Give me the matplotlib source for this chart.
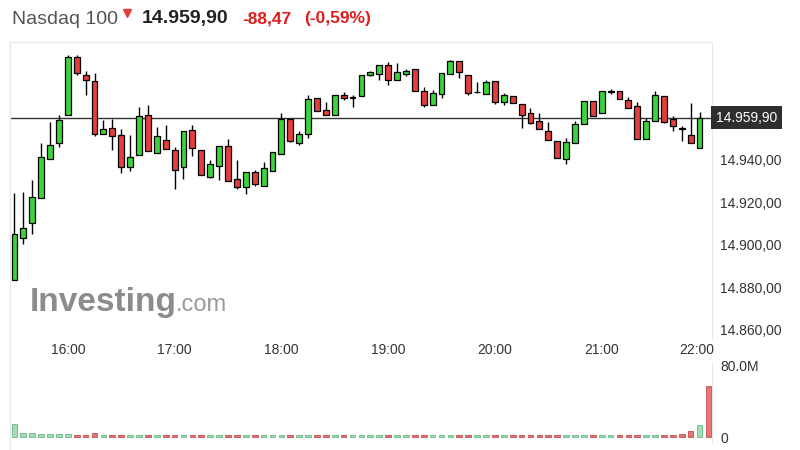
import numpy as np
import matplotlib
matplotlib.use("Agg")
import matplotlib.pyplot as plt
from matplotlib.lines import Line2D

plt.rcParams['font.family'] = ['Liberation Sans', 'DejaVu Sans']

# 5-minute candles, 15:30 .. 21:55
opens = [14883.5, 14903.3, 14910.4, 14922.1, 14940.5, 14948.0, 14961.0, 14988.3, 14980.1, 14977.0,
         14952.2, 14955.1, 14951.8, 14936.8, 14942.2, 14961.0, 14943.3, 14949.4, 14944.7, 14936.4,
         14954.1, 14944.7, 14932.0, 14937.0, 14946.4, 14931.1, 14927.0, 14934.2, 14927.6, 14934.5,
         14942.8, 14959.3, 14948.1, 14952.2, 14969.2, 14963.5, 14961.0, 14970.7, 14969.2, 14969.9,
         14980.0, 14980.5, 14984.8, 14977.6, 14980.5, 14982.8, 14972.3, 14965.9, 14971.1, 14980.5,
         14986.4, 14980.0, 14971.8, 14971.1, 14977.0, 14967.4, 14969.9, 14966.4, 14961.9, 14958.2,
         14953.5, 14948.8, 14940.5, 14948.0, 14956.9, 14967.6, 14962.1, 14972.1, 14972.3, 14968.2,
         14965.4, 14949.9, 14958.5, 14969.9, 14959.3, 14954.6, 14951.8, 14945.6]
highs = [14924.3, 14924.8, 14930.3, 14947.8, 14957.7, 14961.3, 14989.6, 14989.6, 14982.0, 14980.8,
         14958.8, 14959.3, 14954.6, 14951.8, 14964.8, 14966.0, 14955.3, 14956.5, 14945.9, 14953.5,
         14956.6, 14944.7, 14940.0, 14946.4, 14949.6, 14939.7, 14934.0, 14935.3, 14938.9, 14943.6,
         14961.9, 14959.3, 14953.5, 14970.3, 14969.2, 14967.1, 14970.6, 14971.8, 14970.3, 14980.0,
         14982.0, 14984.8, 14985.9, 14985.5, 14982.8, 14982.8, 14974.2, 14972.9, 14980.8, 14987.1,
         14986.4, 14980.0, 14976.5, 14977.6, 14977.0, 14971.3, 14969.9, 14966.4, 14964.3, 14961.9,
         14957.7, 14948.8, 14950.4, 14958.2, 14967.6, 14967.6, 14972.3, 14973.4, 14972.3, 14969.5,
         14967.1, 14959.8, 14972.3, 14969.9, 14960.8, 14956.1, 14966.6, 14962.4]
lows = [14883.5, 14900.5, 14905.2, 14922.1, 14940.5, 14945.9, 14961.0, 14979.8, 14970.3, 14951.0,
        14952.2, 14944.4, 14933.7, 14934.5, 14942.2, 14943.9, 14943.3, 14945.2, 14926.4, 14931.1,
        14942.0, 14932.8, 14931.5, 14930.3, 14929.9, 14926.4, 14924.0, 14927.4, 14927.6, 14934.5,
        14942.8, 14948.3, 14946.9, 14950.4, 14963.2, 14961.0, 14961.0, 14968.2, 14965.1, 14969.9,
        14979.3, 14977.8, 14975.3, 14977.6, 14979.3, 14972.3, 14965.1, 14965.9, 14969.2, 14980.5,
        14978.6, 14970.6, 14971.3, 14971.1, 14966.4, 14965.9, 14966.8, 14955.1, 14956.9, 14954.6,
        14949.4, 14940.9, 14938.1, 14948.0, 14956.9, 14960.4, 14962.1, 14971.1, 14968.7, 14964.5,
        14949.9, 14949.9, 14958.5, 14957.2, 14953.5, 14948.8, 14948.0, 14945.6]
closes = [14905.2, 14908.0, 14922.4, 14941.2, 14947.1, 14958.8, 14988.3, 14980.9, 14977.6, 14952.2,
          14954.6, 14951.0, 14936.8, 14941.2, 14960.4, 14943.9, 14951.1, 14945.2, 14935.3, 14953.5,
          14945.6, 14932.8, 14938.1, 14946.4, 14929.9, 14927.0, 14934.0, 14928.4, 14935.9, 14943.6,
          14959.3, 14948.8, 14952.2, 14968.7, 14963.2, 14961.0, 14970.6, 14969.2, 14969.2, 14980.0,
          14981.2, 14984.8, 14977.6, 14981.2, 14982.0, 14972.3, 14965.6, 14971.5, 14980.8, 14986.4,
          14981.2, 14971.3, 14971.8, 14976.5, 14967.4, 14970.3, 14966.8, 14961.2, 14957.4, 14954.6,
          14949.4, 14940.9, 14948.3, 14956.9, 14967.6, 14960.8, 14972.3, 14972.1, 14968.7, 14964.5,
          14949.9, 14958.5, 14970.6, 14958.0, 14955.7, 14954.6, 14948.0, 14959.9]

# volume in millions (last bar = closing auction at 22:00)
volume = [14.6, 4.9, 4.9, 3.4, 3.4, 3.4, 3.4, 2.6, 2.6, 4.1,
          2.3, 2.2, 2.3, 2.2, 2.2, 2.3, 2.2, 2.2, 2.3, 2.2,
          2.2, 2.3, 2.2, 2.2, 2.2, 2.3, 2.2, 2.2, 2.2, 2.3,
          2.2, 2.2, 2.3, 2.2, 2.2, 2.2, 2.3, 2.2, 2.2, 2.2,
          2.3, 2.2, 2.2, 2.2, 2.3, 2.2, 2.2, 2.2, 2.3, 2.2,
          2.2, 2.2, 2.3, 2.2, 2.2, 2.2, 2.3, 2.2, 2.2, 2.2,
          2.3, 2.2, 2.2, 2.2, 2.3, 2.2, 2.2, 2.2, 2.3, 2.2,
          2.2, 2.2, 2.3, 2.2, 2.5, 3.8, 6.4, 13.0, 57.0]
vol_up = [True] * 7 + [False] * 3 + [True, False, False, True, True, False, True, False, False, True,
          False, False, True, True, False, False, True, False, True, True,
          True, False, True, True, False, False, True, False, True, True,
          True, True, False, True, True, False, False, True, True, True,
          False, False, True, True, False, True, False, False, False, False,
          False, False, True, True, True, False, True, True, False, False,
          False, True, True, False, False, False, False, True, False]

time_ticks = [6, 18, 30, 42, 54, 66, 78]
time_labels = ['16:00', '17:00', '18:00', '19:00', '20:00', '21:00', '22:00']
price_ticks = [14860, 14880, 14900, 14920, 14940]
last_price = 14959.90

GREEN = '#3bd43b'
RED = '#e53d3d'

fig = plt.figure(figsize=(8, 4.5), dpi=100)
W, H = 800, 450


def box(x0, y0, x1, y1):
    return [x0 / W, 1 - y1 / H, (x1 - x0) / W, (y1 - y0) / H]


ax = fig.add_axes(box(10, 42, 712, 338))
vax = fig.add_axes(box(10, 362, 712, 442), sharex=ax)

x = np.arange(len(opens))
o = np.array(opens)
c = np.array(closes)
up = c >= o
cols = np.where(up, GREEN, RED)

ax.vlines(x, lows, highs, color='black', lw=1.0, zorder=2)
bottoms = np.minimum(o, c)
heights = np.maximum(np.abs(c - o), 0.15)
ax.bar(x, heights, 0.66, bottom=bottoms, color=cols, edgecolor='black', lw=0.9, zorder=3)

ax.axhline(last_price, color='#333333', lw=1.0, zorder=1)

ax.set_xlim(-0.5, 78.4)
ax.set_ylim(14856, 14995.5)
ax.yaxis.tick_right()
ax.set_yticks(price_ticks)
ax.set_yticklabels([f'{v:,.2f}'.replace(',', ' ').replace('.', ',').replace(' ', '.') for v in price_ticks])
ax.tick_params(axis='y', length=0, pad=6, labelsize=10, labelcolor='#333333')
ax.tick_params(axis='x', length=0, labelbottom=False)
ax.spines['bottom'].set_visible(False)
ax.spines['left'].set_visible(False)
for s in ['top', 'right']:
    ax.spines[s].set_color('#e8e8e8')

ax.text(1.005, last_price, '14.959,90', transform=ax.get_yaxis_transform(), ha='left', va='center',
        fontsize=10, color='white',
        bbox=dict(boxstyle='square,pad=0.35', fc='#2e2e2e', ec='none'))

for t, lab in zip(time_ticks, time_labels):
    xx = t - 1.3 if lab == '22:00' else t
    ax.text(xx, -0.04, lab, transform=ax.get_xaxis_transform(), ha='center', va='center',
            fontsize=10, color='#333333')

vcols = ['#a6dcb6' if u else '#e07878' for u in vol_up]
vedge = ['#74c08f' if u else '#cc5c5c' for u in vol_up]
vx = np.arange(len(volume))
vax.bar(vx, volume, 0.64, color=vcols, edgecolor=vedge, lw=0.7)
vax.set_ylim(-5.6, 84.5)
vax.yaxis.tick_right()
vax.set_yticks([0, 80])
vax.set_yticklabels(['0', '80.0M'])
vax.tick_params(axis='y', length=0, pad=6, labelsize=10, labelcolor='#333333')
vax.tick_params(axis='x', length=0, labelbottom=False)
for s in ['top', 'bottom', 'left']:
    vax.spines[s].set_visible(False)
vax.spines['right'].set_color('#e8e8e8')

# continuous left border of the chart
fig.add_artist(Line2D([10 / W, 10 / W], [0, 1 - 42 / H], color='#e8e8e8', lw=1.0,
                      transform=fig.transFigure))

# header
fig.text(12 / W, 1 - 19 / H, 'Nasdaq 100', fontsize=14, color='#555555', va='center')
fig.add_artist(Line2D([127 / W], [1 - 13 / H], marker='v', markersize=6, color='#e53d3d',
                      transform=fig.transFigure))
fig.text(142 / W, 1 - 19 / H, '14.959,90', fontsize=14, color='#222222', weight='bold', va='center')
fig.text(242 / W, 1 - 19 / H, '-88,47', fontsize=12.5, color='#e01e1e', weight='bold', va='center')
fig.text(304 / W, 1 - 19 / H, '(-0,59%)', fontsize=12.5, color='#e01e1e', weight='bold', va='center')

# watermark
fig.text(30 / W, 1 - 311 / H, 'Investing', fontsize=24, color='#8c8c8c', weight='bold', va='baseline')
fig.text(176 / W, 1 - 311 / H, '.com', fontsize=17, color='#9a9a9a', va='baseline')

fig.savefig('out.png', dpi=100)
